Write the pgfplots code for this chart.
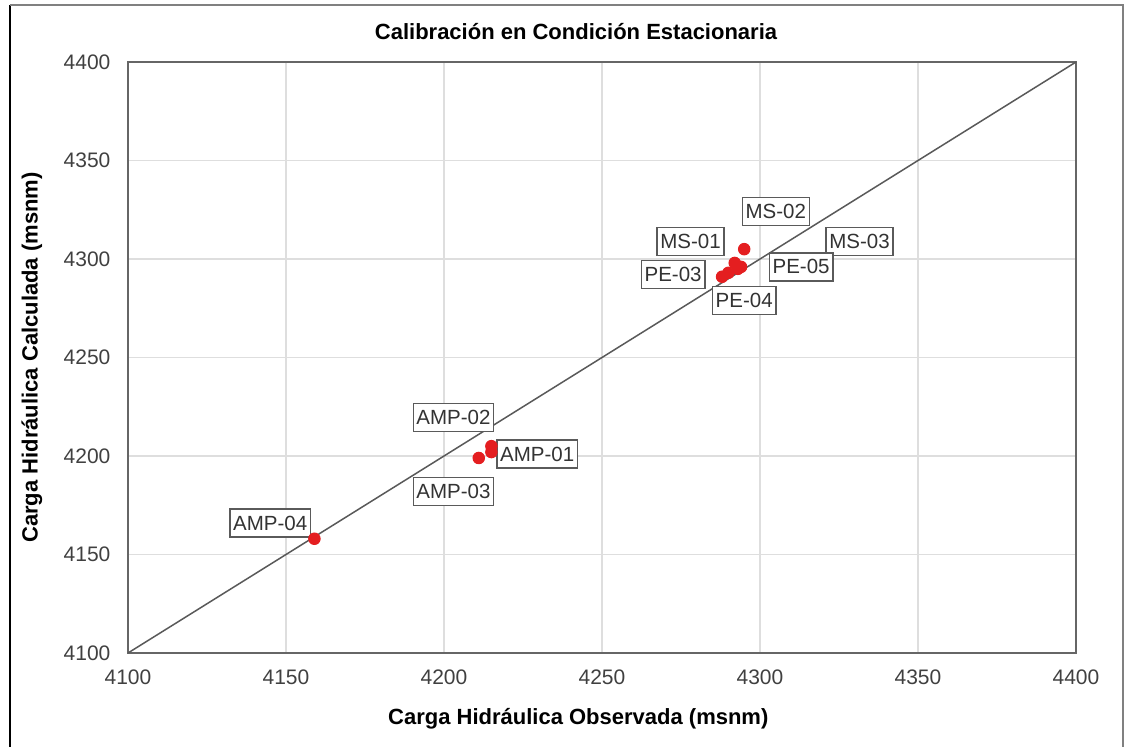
\documentclass[border=0pt]{standalone}
\usepackage{fontspec}
\setmainfont{Liberation Sans}
\usepackage{pgfplots}
\pgfplotsset{compat=1.18}

\definecolor{ptred}{RGB}{228,30,32}
\definecolor{gridgray}{RGB}{222,222,222}
\definecolor{boxgray}{RGB}{90,90,90}

\tikzset{lbl/.style={draw=boxgray, line width=0.55pt, fill=white, font=\fontsize{8.2}{9}\selectfont, text=black!80, inner xsep=1.3pt, inner ysep=0pt, minimum height=11.2pt}}

\begin{document}
\begin{tikzpicture}
\useasboundingbox (-51.2pt,-37.2pt) rectangle (398.8pt,261.2pt);
% outer frame
\draw[black, line width=0.9pt] (-47.2pt,-40pt) -- (-47.2pt,259.2pt);
\draw[gray, line width=0.6pt] (-47.2pt,259.2pt) -- (398pt,259.2pt) -- (398pt,-40pt);

\begin{axis}[
    at={(0,0)}, anchor=south west,
    scale only axis,
    width=379.2pt, height=236.4pt,
    xmin=4100, xmax=4400, ymin=4100, ymax=4400,
    xtick={4100,4150,...,4400},
    ytick={4100,4150,...,4400},
    grid=major,
    major grid style={gridgray, line width=0.5pt},
    axis line style={gray!80!black, line width=0.6pt},
    major tick length=0pt,
    /pgf/number format/assume math mode=true,
    /pgf/number format/set thousands separator={},
    ticklabel style={font=\fontsize{8.4}{10}\selectfont, text=black!75},
    yticklabel style={xshift=-3.5pt},
    xticklabel style={yshift=-3pt},
    title={Calibración en Condición Estacionaria},
    title style={font=\bfseries\fontsize{8.8}{10}\selectfont, at={(axis description cs:0.4726,1.052)}, anchor=center, yshift=-6pt},
    xlabel={Carga Hidráulica Observada (msnm)},
    xlabel style={font=\bfseries\fontsize{8.8}{10}\selectfont, at={(axis description cs:0.475,-0.112)}, anchor=center},
    ylabel={Carga Hidráulica Calculada (msnm)},
    ylabel style={font=\bfseries\fontsize{8.8}{10}\selectfont, at={(axis description cs:-0.1013,0.5)}, anchor=center},
    clip=false,
]
% 1:1 line
\addplot[gray!70!black, line width=0.6pt] coordinates {(4100,4100) (4400,4400)};

% observed vs calculated heads
\addplot[only marks, mark=*, mark size=2.3pt, ptred, mark options={draw=ptred, fill=ptred}] coordinates {
    (4159,4158) % AMP-04
    (4211,4199) % AMP-03
    (4215,4202) % AMP-01
    (4215,4205) % AMP-02
    (4288,4291) % PE-03
    (4290,4293) % PE-04
    (4292,4298) % MS-01
    (4293,4295) % MS-03
    (4294,4296) % PE-05
    (4295,4305) % MS-02
};

\node[lbl] at (axis cs:4305,4324) {MS-02};
\node[lbl] at (axis cs:4278,4309) {MS-01};
\node[lbl] at (axis cs:4331.5,4309) {MS-03};
\node[lbl] at (axis cs:4272.5,4292) {PE-03};
\node[lbl] at (axis cs:4313,4296) {PE-05};
\node[lbl] at (axis cs:4295,4279) {PE-04};
\node[lbl] at (axis cs:4203,4219.5) {AMP-02};
\node[lbl] at (axis cs:4229.5,4201) {AMP-01};
\node[lbl] at (axis cs:4203,4182) {AMP-03};
\node[lbl] at (axis cs:4145,4166) {AMP-04};
\end{axis}
\end{tikzpicture}
\end{document}
